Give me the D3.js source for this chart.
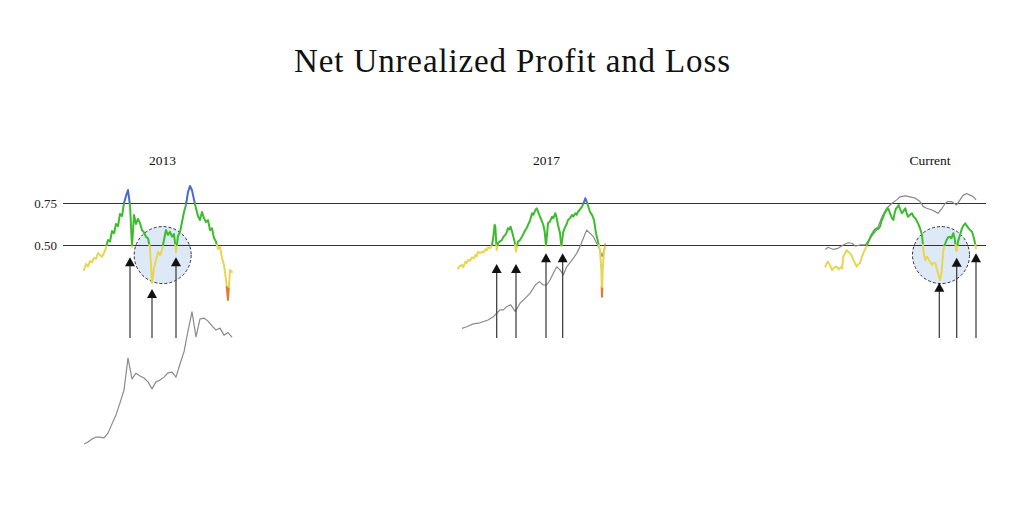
<!DOCTYPE html>
<html><head><meta charset="utf-8">
<script src="https://cdn.jsdelivr.net/npm/d3@7"></script>
<style>body{margin:0;background:#fff}</style>
</head><body>
<svg id="c" width="1024" height="526"></svg>
<script>
// ---------- DATA ----------
const chartTitle = "Net Unrealized Profit and Loss";
const panelLabels = ["2013", "2017", "Current"];
const yTickValues = [0.75, 0.50];
const bandThresholds = [0.25, 0.5, 0.75];

// NUPL 2013 cycle, one value every 3 weeks
const nupl2013 = [0.351,0.387,0.372,0.405,0.396,0.423,0.418,0.452,0.440,0.430,
  0.452,0.482,0.530,0.521,0.583,0.570,0.625,0.612,0.685,0.672,
  0.750,0.792,0.827,0.738,0.490,0.679,0.625,0.655,0.630,0.589,
  0.575,0.548,0.540,0.482,0.274,0.363,0.410,0.458,0.440,0.470,
  0.530,0.589,0.560,0.578,0.550,0.565,0.458,0.554,0.577,0.637,
  0.696,0.740,0.815,0.851,0.826,0.770,0.718,0.673,0.649,0.696,
  0.660,0.637,0.648,0.589,0.600,0.542,0.520,0.476,0.490,0.423,
  0.381,0.292,0.173,0.351,0.339];
// price index (log-scaled, relative) 2013 cycle, one value every 6 weeks
const price2013 = [5.7,6.4,7.5,8.2,8.2,7.9,9.6,12.9,16.1,20.4,
  25.0,36.4,29.0,31.0,30.0,29.3,27.9,25.4,27.9,28.6,
  29.6,31.1,31.4,29.6,34.3,38.6,46.1,52.9,44.0,50.4,
  50.7,49.6,47.9,46.4,47.1,44.6,45.5,43.9];

// [week, NUPL]
const nupl2017 = [[0,0.361],[3,0.375],[6,0.381],[8,0.368],[11,0.401],[13,0.392],[15,0.411],[18,0.405],[21,0.427],[24,0.420],
  [26,0.440],[28,0.433],[30,0.460],[33,0.452],[36,0.460],[38,0.455],[41,0.474],[43,0.468],[45,0.486],[48,0.480],
  [51,0.500],[53,0.549],[55,0.620],[56,0.609],[58,0.470],[60,0.510],[63,0.522],[66,0.530],[68,0.548],[71,0.560],
  [73,0.575],[75,0.599],[77,0.592],[79,0.609],[81,0.580],[83,0.549],[85,0.520],[87,0.460],[90,0.520],[93,0.530],
  [96,0.549],[98,0.565],[101,0.589],[103,0.600],[105,0.619],[108,0.645],[111,0.689],[113,0.680],[116,0.708],[118,0.718],
  [120,0.700],[123,0.668],[125,0.650],[128,0.619],[130,0.580],[132,0.494],[135,0.629],[138,0.640],[141,0.668],[143,0.660],
  [146,0.689],[148,0.660],[150,0.619],[153,0.570],[155,0.494],[158,0.580],[161,0.609],[163,0.625],[165,0.649],[168,0.660],
  [171,0.679],[173,0.670],[176,0.689],[178,0.680],[180,0.698],[183,0.712],[186,0.728],[188,0.745],[191,0.778],[193,0.758],
  [195,0.735],[197,0.708],[199,0.690],[201,0.679],[204,0.649],[207,0.570],[210,0.520],[213,0.470],[215,0.351],[216,0.192],
  [217,0.351],[219,0.460],[221,0.490]];
// [week, price index]
const price2017 = [[6,47.0],[13,47.6],[23,48.6],[33,49.0],[45,50.0],[53,51.2],[58,52.4],[63,53.6],[68,53.6],[73,54.8],
  [79,55.4],[86,53.0],[93,56.0],[101,57.8],[108,59.5],[116,62.5],[122,63.7],[128,62.5],[133,62.5],[138,64.3],
  [143,66.7],[148,69.0],[153,67.9],[158,66.1],[163,69.0],[171,71.4],[178,73.8],[183,76.2],[188,79.2],[193,82.1],
  [198,81.0],[203,79.8],[208,77.4],[213,75.0],[216,72.6],[219,75.0],[221,77.4]];

const nuplCurrent = [[2,0.371],[4,0.390],[6,0.401],[9,0.380],[12,0.351],[15,0.365],[19,0.371],[22,0.355],[25,0.368],[27,0.361],
  [29,0.430],[31,0.445],[34,0.470],[36,0.460],[39,0.451],[41,0.440],[44,0.411],[46,0.395],[49,0.371],[51,0.385],
  [54,0.391],[56,0.420],[59,0.451],[61,0.470],[64,0.490],[66,0.515],[69,0.540],[71,0.560],[74,0.579],[76,0.590],
  [79,0.599],[81,0.595],[84,0.609],[86,0.640],[89,0.668],[91,0.690],[94,0.708],[96,0.718],[98,0.700],[100,0.679],
  [102,0.660],[104,0.649],[106,0.690],[108,0.718],[110,0.725],[112,0.738],[114,0.715],[117,0.689],[119,0.700],[122,0.718],
  [124,0.690],[126,0.668],[129,0.680],[132,0.689],[134,0.670],[137,0.659],[139,0.645],[141,0.629],[144,0.600],[147,0.560],
  [149,0.470],[150,0.440],[152,0.411],[154,0.430],[156,0.421],[159,0.400],[162,0.381],[164,0.395],[167,0.391],[169,0.360],
  [171,0.332],[173,0.300],[174,0.292],[176,0.330],[177,0.371],[179,0.470],[181,0.500],[184,0.530],[186,0.545],[189,0.549],
  [191,0.540],[194,0.570],[196,0.540],[198,0.470],[199,0.465],[201,0.520],[204,0.560],[207,0.599],[209,0.615],[212,0.629],
  [214,0.615],[217,0.599],[219,0.590],[222,0.579],[225,0.540],[228,0.480]];
const priceCurrent = [[2,75.2],[6,76.0],[14,75.2],[21,75.6],[29,76.8],[36,77.6],[42,77.4],[47,76.4],[54,76.8],[62,76.8],
  [69,79.2],[79,82.1],[87,86.9],[94,89.9],[102,91.7],[109,92.9],[114,94.0],[122,94.3],[129,94.0],[137,93.5],
  [144,92.3],[149,90.5],[154,89.9],[162,89.3],[167,88.7],[171,88.1],[177,89.9],[182,91.7],[186,92.3],[191,92.3],
  [199,91.1],[204,92.9],[209,94.6],[214,95.2],[219,94.6],[224,94.0],[228,92.9]];

// arrows: [week, NUPL value at arrow tip]
const arrows2013 = [[69,0.427],[102,0.238],[138,0.427]];
const arrows2017 = [[58,0.387],[87,0.387],[132,0.451],[157,0.451]];
const arrowsCurrent = [[173,0.276],[199,0.424],[228,0.451]];
const arrowBaseValue = -0.054;
// highlighted zones: [week, NUPL centre]
const circles2013 = [[118,0.440]];
const circlesCurrent = [[175.5,0.440]];

// ---------- CHART ----------
const svg = d3.select("#c");
const colors = ["#e8782a", "#e8d552", "#3cbc2c", "#4a6ad2"];
const y = d3.scaleLinear().domain([0.5, 0.75]).range([245, 203]);
const yPrice = d3.scaleLinear().domain([0, 100]).range([460, 180]);
const serif = "'Liberation Serif', 'DejaVu Serif', serif";

svg.append("text").attr("x", 512).attr("y", 72).attr("text-anchor", "middle")
  .attr("font-family", serif).attr("font-size", 33).attr("fill", "#111")
  .attr("textLength", 436).attr("lengthAdjust", "spacing").text(chartTitle);

const panels = [
  {label: panelLabels[0], labelX: 162.5, range: [84, 232], domain: [0, 222],
   nupl: nupl2013.map((v, i) => [i * 3, v]), price: price2013.map((v, i) => [i * 6, v]),
   arrows: arrows2013, circles: circles2013},
  {label: panelLabels[1], labelX: 546.5, range: [458, 606], domain: [0, 222],
   nupl: nupl2017, price: price2017, arrows: arrows2017, circles: []},
  {label: panelLabels[2], labelX: 930, range: [824, 977], domain: [0, 229.5],
   nupl: nuplCurrent, price: priceCurrent, arrows: arrowsCurrent, circles: circlesCurrent}
];

// circles (behind)
panels.forEach(p => {
  const x = d3.scaleLinear().domain(p.domain).range(p.range);
  p.x = x;
  svg.append("g").selectAll("circle").data(p.circles).join("circle")
    .attr("cx", d => x(d[0])).attr("cy", d => y(d[1])).attr("r", 28.5)
    .attr("fill", "#dde9f6").attr("stroke", "#333").attr("stroke-width", 1)
    .attr("stroke-dasharray", "3,2");
});

// axis with gridlines
const axis = d3.axisLeft(y).tickValues(yTickValues).tickFormat(d3.format(".2f"))
  .tickSize(-(986 - 63)).tickPadding(6);
const ag = svg.append("g").attr("transform", "translate(63,0)").call(axis);
ag.select(".domain").remove();
ag.selectAll(".tick line").attr("stroke", "#333").attr("stroke-width", 1);
ag.selectAll(".tick text").attr("font-family", serif).attr("font-size", 13).attr("fill", "#222");

function bandOf(v) { return v < 0.25 ? 0 : v < 0.5 ? 1 : v < 0.75 ? 2 : 3; }
function pieces(pts) {
  const out = []; let cur = null;
  for (let i = 0; i < pts.length - 1; i++) {
    const a = pts[i], b = pts[i + 1];
    const ts = [0, 1];
    bandThresholds.forEach(th => { if ((a[1] - th) * (b[1] - th) < 0) ts.push((th - a[1]) / (b[1] - a[1])); });
    ts.sort((m, n) => m - n);
    for (let k = 0; k < ts.length - 1; k++) {
      const p0 = [a[0] + (b[0] - a[0]) * ts[k], a[1] + (b[1] - a[1]) * ts[k]];
      const p1 = [a[0] + (b[0] - a[0]) * ts[k + 1], a[1] + (b[1] - a[1]) * ts[k + 1]];
      const band = bandOf((p0[1] + p1[1]) / 2);
      if (cur && cur.band === band) cur.pts.push(p1);
      else { cur = {band, pts: [p0, p1]}; out.push(cur); }
    }
  }
  return out;
}

panels.forEach(p => {
  const x = p.x;
  const g = svg.append("g");
  // label
  g.append("text").attr("x", p.labelX).attr("y", 164.5)
    .attr("text-anchor", "middle").attr("font-family", serif).attr("font-size", 13.5).attr("fill", "#111").text(p.label);
  // price line
  g.append("path").datum(p.price)
    .attr("d", d3.line().x(d => x(d[0])).y(d => yPrice(d[1])))
    .attr("fill", "none").attr("stroke", "#8a8a8a").attr("stroke-width", 1.2).attr("stroke-linejoin", "round");
  // NUPL coloured
  const lineGen = d3.line().x(d => x(d[0])).y(d => y(d[1]));
  g.selectAll("path.nupl").data(pieces(p.nupl)).join("path").attr("class", "nupl")
    .attr("d", d => lineGen(d.pts)).attr("fill", "none")
    .attr("stroke", d => colors[d.band]).attr("stroke-width", 2)
    .attr("stroke-linejoin", "round").attr("stroke-linecap", "round");
  // arrows
  p.arrows.forEach(a => {
    const ax = x(a[0]), tip = y(a[1]);
    g.append("line").attr("x1", ax).attr("x2", ax).attr("y1", y(arrowBaseValue)).attr("y2", tip + 8)
      .attr("stroke", "#444").attr("stroke-width", 1.3);
    g.append("path").attr("d", `M${ax},${tip}L${ax - 5},${tip + 9}L${ax + 5},${tip + 9}Z`).attr("fill", "#111");
  });
});
</script>
</body></html>
